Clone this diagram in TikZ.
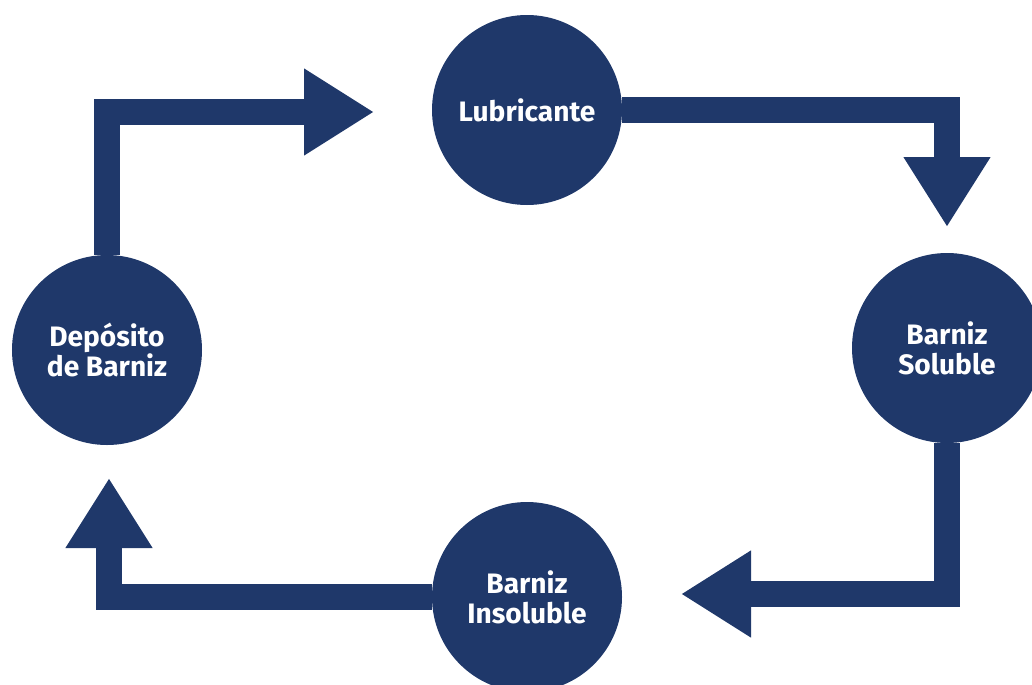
\documentclass[tikz,border=0pt]{standalone}
\usepackage{fontspec}
\setmainfont{Fira Sans}
\usepackage{tikz}
\usetikzlibrary{positioning,arrows.meta}

\definecolor{navy}{HTML}{1F386A}

\begin{document}
\begin{tikzpicture}[node distance=1cm, on grid,
	circ/.style={circle, fill=navy, minimum size=3.8cm, inner sep=0pt, align=center,
		text=white, font=\fontsize{16}{17}\selectfont\bfseries},
	flow/.style={draw=navy, line width=0.52cm, line join=miter,
		-{Triangle[length=1.4cm, width=1.64cm]}}]

	\clip (0,0) rectangle (20.64,-13.68);

	\node[circ] (lub) at (10.54,-2.2) {Lubricante};
	\node[circ, below right=4.76cm and 8.4cm of lub] (sol) {Barniz\\Soluble};
	\node[circ, below=9.74cm of lub] (ins) {Barniz\\Insoluble};
	\node[circ, below left=4.8cm and 8.4cm of lub] (dep) {Depósito\\de Barniz};

	\coordinate (t1) at (7.48,-2.24);
	\coordinate (t2) at (18.94,-4.54);
	\coordinate (t3) at (13.62,-11.88);
	\coordinate (t4) at (2.18,-9.56);

	\path[flow] (dep.north) |- (t1);
	\path[flow] (lub.east) -| (t2);
	\path[flow] (sol.south) |- (t3);
	\path[flow] (ins.west) -| (t4);

\end{tikzpicture}
\end{document}
